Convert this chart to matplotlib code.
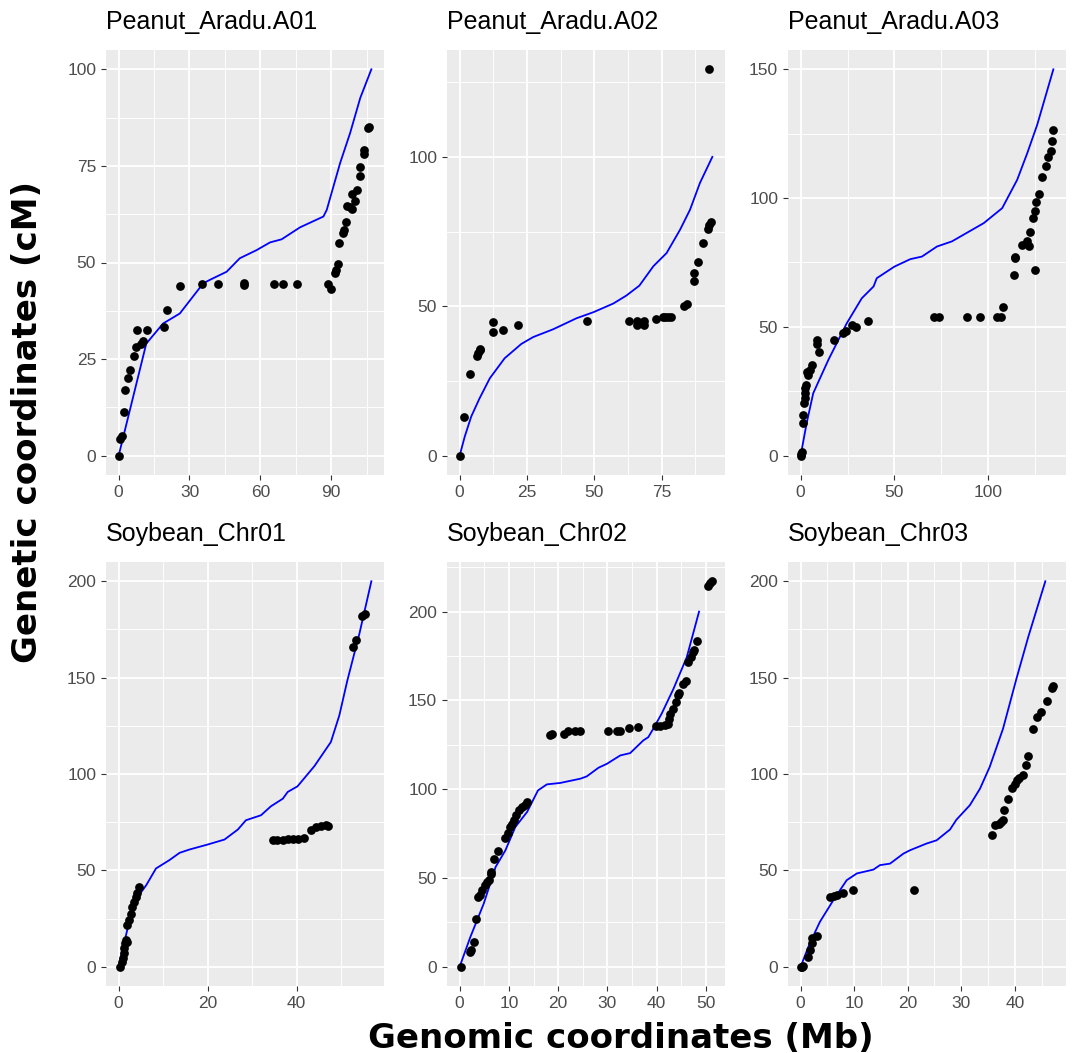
import matplotlib
matplotlib.use("Agg")
import matplotlib.pyplot as plt
from matplotlib.ticker import MultipleLocator

# ---- data (Mb, cM) ----
names = ["Peanut_Aradu.A01", "Peanut_Aradu.A02", "Peanut_Aradu.A03",
         "Soybean_Chr01", "Soybean_Chr02", "Soybean_Chr03"]

a01_x = [0, 0.7, 1.4, 2.3, 2.8, 4, 4.7, 6.6, 7.5, 7.9, 9.6, 10.3, 12.2, 19.2, 20.6, 25.9,
         35.4, 41.9, 53, 53, 65.8, 69.7, 75.7, 88.5, 90, 91.4, 92, 92.8, 93.5, 95.2, 95.6,
         96.2, 96.6, 98, 99, 100.1, 99, 101.1, 102, 102.1, 103.7, 103.7, 105.5, 105.9]
a01_y = [0, 4.3, 5, 11.3, 17.1, 20, 22.2, 25.7, 28.2, 32.5, 28.9, 29.8, 32.5, 33.2, 37.6, 43.8,
         44.5, 44.5, 44.8, 44.3, 44.5, 44.5, 44.5, 44.5, 43.1, 47.2, 48, 49.6, 55, 57.6, 58.4,
         60.6, 64.7, 64.3, 63.8, 65.8, 67.7, 68.8, 72.3, 74.8, 78.2, 79.2, 84.7, 85.1]
a01_lx = [0, 11.7, 18.8, 25.9, 35.8, 38.6, 45.7, 51.3, 58.4, 64.1, 69, 76.8, 86.7, 88.1,
          93.8, 98, 102.3, 107]
a01_ly = [0, 29, 34.2, 36.8, 44.6, 45.5, 47.6, 51.1, 53.2, 55.2, 56, 59.1, 61.9, 63.6,
          75.8, 83.5, 92.6, 100]

a02_x = [0, 1.6, 4, 6.4, 6.8, 7.4, 7.7, 12.4, 12.4, 16.1, 21.7, 47.1, 62.7, 65.9, 65.9, 68.4,
         68.4, 72.9, 75.6, 76.1, 77.5, 78.4, 83.4, 84.5, 87, 87.1, 88.6, 90.5, 92.3, 92.7,
         93.2, 92.4]
a02_y = [0, 12.8, 27.4, 33.2, 34.3, 35.8, 35.4, 44.6, 41.5, 42.1, 43.9, 45.1, 45.1, 45.1, 43.7,
         45.1, 43.7, 45.7, 46.3, 46.3, 46.3, 46.3, 50.2, 50.8, 58.5, 61.1, 64.9, 71.3, 75.9,
         77.3, 78.1, 129.3]
a02_lx = [0, 1.9, 4.3, 7.4, 11.2, 16.7, 22.9, 27.3, 34.7, 43.4, 49.6, 57, 61.9, 66.7, 71.9,
          76.8, 81.8, 85.5, 89.2, 93.8]
a02_ly = [0, 6.4, 13.1, 19.2, 25.9, 32.6, 37.4, 39.7, 42.3, 46, 48, 50.9, 53.6, 56.9, 63.4,
          67.8, 75.6, 82.3, 91.3, 100]

a03_x = [0, 0, 0.5, 1.1, 1.4, 2, 2.1, 2.3, 2.5, 2.7, 3.6, 4.1, 5, 6.2, 8.6, 8.9, 10, 18, 22.8,
         24.2, 27.3, 29.6, 35.8, 70.9, 73.6, 88.8, 95.9, 104.8, 106.9, 108, 113.7, 114.3,
         114.6, 118.2, 120.5, 121.7, 122.3, 124.8, 124.1, 124.8, 125.7, 127.1, 128.9, 130.7,
         132.1, 133.3, 133.9, 134.6]
a03_y = [0.6, 0, 1.6, 12.6, 15.8, 20.3, 22.3, 24.2, 26.2, 27.5, 32.6, 31.3, 33.3, 35.2, 45.1,
         43.5, 40.2, 45.1, 47.7, 48.3, 50.6, 50, 52.1, 54, 54, 54, 54, 54, 54, 57.6, 70.2, 76.6,
         77.3, 81.9, 83.2, 81.5, 86.7, 72.2, 92.2, 94.8, 98.4, 101.7, 108.2, 112.3, 115.9,
         118.1, 122, 126.6]
a03_lx = [0, 3.2, 6.7, 10.3, 14.8, 24.6, 32.6, 38.9, 40.6, 50, 58.5, 64.7, 72.7, 80.7, 97.7,
          107.5, 115.5, 120.9, 126.2, 134.8]
a03_ly = [0, 12.6, 24.2, 30, 37.2, 51.4, 61.1, 65.7, 68.9, 73.4, 76.3, 77.3, 81.2, 83.2, 90.3,
          96.1, 107.1, 117.5, 128.5, 150]

c01_x = [0.4, 0.75, 1, 1.1, 1.2, 1.35, 1.7, 1.9, 1.9, 2.3, 2.7, 3.1, 3.4, 3.8, 4.2, 4.6, 34.6,
         35.7, 36.9, 38, 39.1, 40.2, 41.7, 43.2, 44.3, 45.4, 46.6, 47.1, 52.7, 53.3, 54.8, 55.3]
c01_y = [0, 2.6, 4.3, 6.9, 9.5, 12.1, 13.8, 13, 21.6, 24.2, 27.6, 31.1, 33.7, 36.3, 38, 41.5,
         66, 66, 66, 66.5, 66.5, 66.5, 67, 71.2, 72.5, 73.1, 73.4, 73.1, 166.1, 169.6, 182.2,
         183.1]
c01_lx = [0, 2.1, 4.3, 6.2, 8.4, 11.4, 13.7, 15.9, 20, 23.8, 26.8, 28.6, 32, 34.2, 36.9, 38,
          40.2, 44, 47.7, 49.6, 51.4, 54.1, 56.8]
c01_ly = [0, 20.7, 36.3, 42.3, 51, 55.3, 59.1, 60.8, 63.4, 66, 71.2, 76, 78.6, 83.2, 87.2, 90.7,
          93.6, 104.1, 116.6, 130.4, 148.5, 172.7, 200]

c02_x = [0.3, 2.1, 2.4, 3, 3.4, 3.7, 4.1, 4.6, 5.1, 5.5, 6, 6.3, 6.4, 6.9, 7.8, 9.3, 9.8, 10.2,
         10.7, 11, 11.5, 12, 12.7, 13.2, 13.7, 18.3, 18.8, 21.1, 21.9, 23.5, 24.5, 30.2, 31.9,
         32.6, 34.4, 36.3, 39.9, 40.7, 41.7, 42.2, 42.4, 42.7, 43.4, 43.9, 44.4, 44.6, 45.3,
         45.9, 46.4, 46.9, 47.3, 47.6, 48.2, 50.5, 50.9, 51.3]
c02_y = [0, 8.4, 9.7, 14.1, 26.6, 39.4, 40.3, 43.1, 45.9, 47.8, 49.1, 52.5, 53.4, 60.4, 65.2,
         72.7, 75.4, 78.7, 80.6, 82.8, 85.3, 88.1, 90, 90.9, 92.8, 130.3, 130.8, 131.2, 132.5,
         132.5, 132.5, 132.5, 132.5, 132.5, 134.4, 135.3, 135.5, 135.5, 135.9, 136.8, 139.6,
         142.5, 145.3, 149, 152.8, 154.1, 159.3, 160.8, 171.5, 174.3, 177.1, 178.4, 183.7,
         214.6, 215.9, 217.1]
c02_lx = [0, 2.2, 4.9, 7.3, 9.3, 11.3, 13.7, 15.9, 17.7, 20.4, 24.5, 25.8, 28.2, 29.9, 32.6,
          34.6, 37.3, 38.3, 39.3, 41, 43.4, 46.1, 48.6]
c02_ly = [0, 16.9, 35.6, 56.2, 65.6, 78.7, 87.2, 99.3, 102.7, 103.5, 105.9, 107.2, 112.1,
          114.3, 119, 120.3, 127.5, 129.3, 134, 142.5, 156.5, 174.3, 200]

c03_x = [0, 0.2, 0.4, 1.4, 1.7, 2.1, 2.2, 3, 5.5, 6.2, 6.7, 8, 9.8, 21.2, 35.8, 36.3, 37.1,
         37.5, 37.8, 37.9, 38.8, 39.4, 40, 40.5, 40.8, 41.5, 42.1, 42.5, 43.4, 44.1, 44.8, 46,
         47, 47.2]
c03_y = [0, 0, 0.3, 4.8, 8.6, 12.1, 14.7, 15.9, 36.3, 36.6, 37.1, 38.5, 39.7, 39.7, 68.6, 73.4,
         74.3, 75.1, 76.3, 81.2, 87.2, 92.7, 94.9, 96.7, 98.1, 99.3, 104.5, 109.2, 123.5, 129.5,
         132.1, 137.8, 144.7, 145.9]
c03_lx = [0, 1.7, 3.6, 6.1, 8.6, 10.5, 13.6, 14.8, 16.7, 19.2, 20.4, 23.5, 25.4, 27.9, 29.1,
          31.6, 33.5, 35.3, 37.8, 40.3, 42.5, 45.7]
c03_ly = [0, 12.1, 23.3, 34.5, 44.9, 48.4, 50.4, 52.7, 53.5, 58.7, 60.4, 63.9, 65.6, 71.2,
          76.3, 83.8, 92.4, 103.6, 123.5, 149.4, 171, 200]

points = [(a01_x, a01_y), (a02_x, a02_y), (a03_x, a03_y),
          (c01_x, c01_y), (c02_x, c02_y), (c03_x, c03_y)]
curves = [(a01_lx, a01_ly), (a02_lx, a02_ly), (a03_lx, a03_ly),
          (c01_lx, c01_ly), (c02_lx, c02_ly), (c03_lx, c03_ly)]
x_steps = [30, 25, 50, 20, 10, 10]
y_steps = [25, 50, 50, 50, 50, 50]

# ---- layout in pixels ----
W, H = 1072, 1053
cols = [(106, 384), (447, 725), (788, 1066)]
rows = [(50, 475), (562, 986)]

fig = plt.figure(figsize=(W / 100, H / 100), dpi=100)

for i in range(6):
    l, r = cols[i % 3]
    t, b = rows[i // 3]
    ax = fig.add_axes([l / W, 1 - b / H, (r - l) / W, (b - t) / H])
    ax.set_facecolor("#EBEBEB")
    for s in ax.spines.values():
        s.set_visible(False)

    px, py = points[i]
    lx, ly = curves[i]
    ax.plot(lx, ly, color="#0000FF", lw=1.3, zorder=3)
    ax.plot(px, py, "o", color="black", ms=6.3, mew=0, zorder=4)

    # ggplot-like 5% expansion
    xs = px + lx
    ys = py + ly
    xr = max(xs) - min(xs)
    yr = max(ys) - min(ys)
    ax.set_xlim(min(xs) - 0.05 * xr, max(xs) + 0.05 * xr)
    ax.set_ylim(min(ys) - 0.05 * yr, max(ys) + 0.05 * yr)

    ax.xaxis.set_major_locator(MultipleLocator(x_steps[i]))
    ax.xaxis.set_minor_locator(MultipleLocator(x_steps[i] / 2))
    ax.yaxis.set_major_locator(MultipleLocator(y_steps[i]))
    ax.yaxis.set_minor_locator(MultipleLocator(y_steps[i] / 2))
    ax.grid(which="major", color="white", lw=1.3)
    ax.grid(which="minor", color="white", lw=0.65)
    ax.set_axisbelow(True)
    ax.tick_params(which="major", length=3.6, width=0.8, color="#333333",
                   labelcolor="#4D4D4D", labelsize=12.5, pad=3.5)
    ax.tick_params(which="minor", length=0)
    for lab in ax.get_xticklabels() + ax.get_yticklabels():
        lab.set_fontfamily("Liberation Sans")

    ax.set_title(names[i], loc="left", fontsize=18, pad=15,
                 fontfamily="Liberation Sans", color="black")

fig.text(28 / W, 1 - 422 / H, "Genetic coordinates (cM)", rotation=90,
         ha="center", va="center", fontsize=24.5, fontweight="bold",
         fontfamily="DejaVu Sans")
fig.text(621 / W, 1 - 1038 / H, "Genomic coordinates (Mb)",
         ha="center", va="center", fontsize=24.5, fontweight="bold",
         fontfamily="DejaVu Sans")

fig.savefig("out.png", dpi=100)
